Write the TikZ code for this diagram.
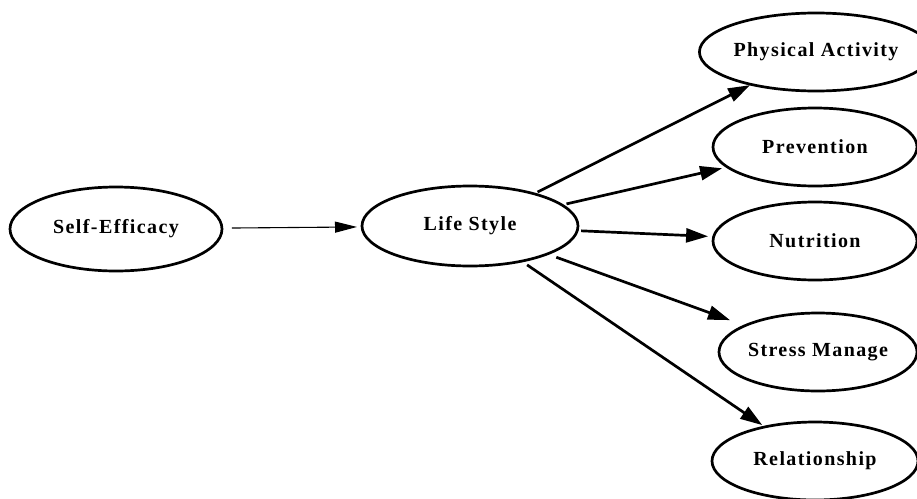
\documentclass[tikz,border=0pt]{standalone}
\usepackage{fontspec}
\setmainfont{Liberation Serif}
\usetikzlibrary{shapes.geometric,arrows.meta}
\begin{document}
\begin{tikzpicture}[x=1pt,y=-1pt,
  oval/.style={ellipse,draw,line width=2.7pt,inner sep=0pt,
    font=\fontsize{20}{23}\selectfont\bfseries\addfontfeature{LetterSpace=7}},
  link/.style={line width=2.7pt,-{Triangle[length=22pt,width=14pt]}},
  thinlink/.style={line width=1.1pt,-{Triangle[length=22pt,width=11pt]}}]
\useasboundingbox (0,0) rectangle (917,498);
% constructs
\node[oval,minimum width=212pt,minimum height=84pt] (se) at (116,229) {Self-Efficacy};
\node[oval,minimum width=216pt,minimum height=80pt] (ls) at (470,226) {Life Style};
\node[oval,minimum width=200pt,minimum height=78pt] (pa) at (816,52) {Physical Activity};
\node[oval,minimum width=204pt,minimum height=78pt] (pv) at (815,147) {Prevention};
\node[oval,minimum width=204pt,minimum height=78pt] (nu) at (815,241) {Nutrition};
\node[oval,minimum width=198pt,minimum height=78pt] (sm) at (818,352) {Stress Manage};
\node[oval,minimum width=206pt,minimum height=78pt] (re) at (815,461) {Relationship};
% paths
\draw[thinlink,shorten <=116pt,shorten >=113pt] (se.center) -- (ls.center);
\draw[link,shorten <=75.6pt,shorten >=73.8pt] (ls.center) -- (pa.center);
\draw[link,shorten <=99pt,shorten >=95.3pt] (ls.center) -- (pv.center);
\draw[link,shorten <=111.2pt,shorten >=107pt] (ls.center) -- (nu.center);
\draw[link,shorten <=91.8pt,shorten >=93.6pt] (ls.center) -- (sm.center);
\draw[link,shorten <=69.1pt,shorten >=63.8pt] (ls.center) -- (re.center);
\end{tikzpicture}
\end{document}
